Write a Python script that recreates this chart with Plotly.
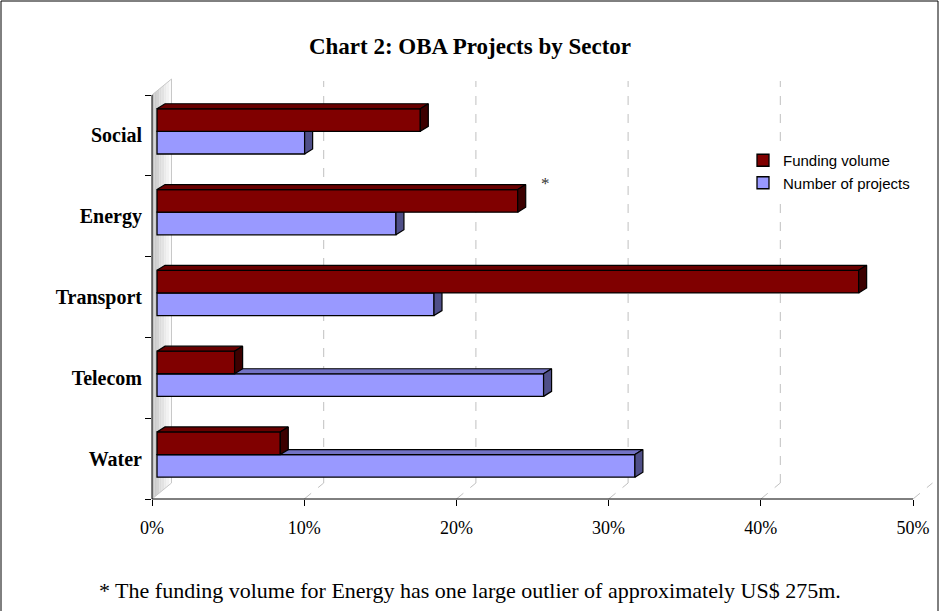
import plotly.graph_objects as go

# ---------------- data ----------------
categories = ["Water", "Telecom", "Transport", "Energy", "Social"]
funding_volume = [8.1, 5.1, 46.1, 23.7, 17.3]        # % of total funding
number_of_projects = [31.4, 25.4, 18.2, 15.7, 9.7]   # % of projects
x_tick_values = [0, 10, 20, 30, 40, 50]
x_tick_labels = ["0%", "10%", "20%", "30%", "40%", "50%"]
series_names = ["Funding volume", "Number of projects"]

# ---------------- geometry / style ----------------
W, H = 940, 611
L, R, T, B = 152, 936, 81, 499          # plot-area pixel box
PX_PER_PCT = 15.22                      # pixels per 1 %
PX_PER_CAT = 80.8
AXIS_TOP = 95
DEPTH_DX, DEPTH_DY = 19.5, 16           # back wall offset (pixels)
BAR_DX, BAR_DY = 8, 5                   # bar depth (pixels)
BAR_BASE = 5 / PX_PER_PCT               # bars sit slightly in front of the wall

y_lo = -0.5
y_hi = -0.5 + (B - T) / PX_PER_CAT
x_hi = (R - L) / PX_PER_PCT

dx = BAR_DX / PX_PER_PCT
dy = BAR_DY / PX_PER_CAT
bw = 0.28
num_off, fund_off = -0.23, 0.05

FUND_FRONT, FUND_TOP, FUND_SIDE = "#800000", "#680000", "#3c0000"
NUM_FRONT, NUM_TOP, NUM_SIDE = "#9999FF", "#7272c4", "#4f4f88"
SERIF = "Liberation Serif"
SANS = "Liberation Sans"


def px_x(p):
    return (p - L) / (R - L)


def px_y(p):
    return (B - p) / (B - T)


ypos = list(range(len(categories)))


def faces(values, off):
    tx, ty, sx, sy = [], [], [], []
    for i, v in zip(ypos, values):
        x0 = BAR_BASE
        x1 = BAR_BASE + v
        yb = i + off
        yt = yb + bw
        tx += [x0, x1, x1 + dx, x0 + dx, x0, None]
        ty += [yt, yt, yt + dy, yt + dy, yt, None]
        sx += [x1, x1 + dx, x1 + dx, x1, x1, None]
        sy += [yb, yb + dy, yt + dy, yt, yb, None]
    return tx, ty, sx, sy


fig = go.Figure()

# Number of projects (lower bar of each pair) on y
fig.add_trace(go.Bar(
    x=number_of_projects, y=ypos, orientation="h", base=BAR_BASE,
    width=bw, offset=num_off, name=series_names[1], legendrank=2,
    marker=dict(color=NUM_FRONT, line=dict(color="black", width=1.3)),
    xaxis="x", yaxis="y", hoverinfo="skip"))
tx, ty, sx, sy = faces(number_of_projects, num_off)
fig.add_trace(go.Scatter(x=tx, y=ty, fill="toself", mode="lines", fillcolor=NUM_TOP,
                         line=dict(color="black", width=1.2), showlegend=False,
                         xaxis="x", yaxis="y", hoverinfo="skip"))
fig.add_trace(go.Scatter(x=sx, y=sy, fill="toself", mode="lines", fillcolor=NUM_SIDE,
                         line=dict(color="black", width=1.2), showlegend=False,
                         xaxis="x", yaxis="y", hoverinfo="skip"))

# Funding volume (upper bar) on overlaid y2 so it is drawn in front
fig.add_trace(go.Bar(
    x=funding_volume, y=ypos, orientation="h", base=BAR_BASE,
    width=bw, offset=fund_off, name=series_names[0], legendrank=1,
    marker=dict(color=FUND_FRONT, line=dict(color="black", width=1.3)),
    xaxis="x", yaxis="y2", hoverinfo="skip"))
tx, ty, sx, sy = faces(funding_volume, fund_off)
fig.add_trace(go.Scatter(x=tx, y=ty, fill="toself", mode="lines", fillcolor=FUND_TOP,
                         line=dict(color="black", width=1.2), showlegend=False,
                         xaxis="x", yaxis="y2", hoverinfo="skip"))
fig.add_trace(go.Scatter(x=sx, y=sy, fill="toself", mode="lines", fillcolor=FUND_SIDE,
                         line=dict(color="black", width=1.2), showlegend=False,
                         xaxis="x", yaxis="y2", hoverinfo="skip"))

# ---------------- decorations (wall, grid, axis lines) ----------------
shapes = []
n_strips = 8
for k in range(n_strips):
    xa = L + DEPTH_DX * k / n_strips
    xb = L + DEPTH_DX * (k + 1) / n_strips
    ya_top = AXIS_TOP - DEPTH_DY * k / n_strips
    yb_top = AXIS_TOP - DEPTH_DY * (k + 1) / n_strips
    ya_bot = B - DEPTH_DY * k / n_strips
    yb_bot = B - DEPTH_DY * (k + 1) / n_strips
    g = int(192 + 62 * (k + 0.5) / n_strips)
    path = (f"M{px_x(xa)},{px_y(ya_bot)} L{px_x(xa)},{px_y(ya_top)} "
            f"L{px_x(xb)},{px_y(yb_top)} L{px_x(xb)},{px_y(yb_bot)} Z")
    shapes.append(dict(type="path", path=path, xref="paper", yref="paper",
                       fillcolor=f"rgb({g},{g},{g})", line=dict(width=0), layer="below"))
shapes.append(dict(type="line", xref="paper", yref="paper",
                   x0=px_x(L + DEPTH_DX), x1=px_x(L + DEPTH_DX),
                   y0=px_y(B - DEPTH_DY), y1=px_y(AXIS_TOP - DEPTH_DY),
                   line=dict(color="#c8c8c8", width=1), layer="below"))
shapes.append(dict(type="line", xref="paper", yref="paper",
                   x0=px_x(L), y0=px_y(B), x1=px_x(L + DEPTH_DX), y1=px_y(B - DEPTH_DY),
                   line=dict(color="#c8c8c8", width=1), layer="below"))
shapes.append(dict(type="line", xref="paper", yref="paper",
                   x0=px_x(L), y0=px_y(AXIS_TOP), x1=px_x(L + DEPTH_DX), y1=px_y(AXIS_TOP - DEPTH_DY),
                   line=dict(color="#c8c8c8", width=1), layer="below"))
for v in x_tick_values[1:]:
    fx = L + v * PX_PER_PCT
    shapes.append(dict(type="line", xref="paper", yref="paper",
                       x0=px_x(fx), y0=px_y(B), x1=px_x(fx + DEPTH_DX), y1=px_y(B - DEPTH_DY),
                       line=dict(color="#c0c0c0", width=1, dash="dash"), layer="below"))
    if v < x_tick_values[-1]:
        shapes.append(dict(type="line", xref="paper", yref="paper",
                           x0=px_x(fx + DEPTH_DX), y0=px_y(B - DEPTH_DY),
                           x1=px_x(fx + DEPTH_DX), y1=px_y(T),
                           line=dict(color="#c0c0c0", width=1, dash="dash"), layer="below"))
# axis lines
shapes.append(dict(type="line", xref="paper", yref="paper",
                   x0=0, y0=px_y(B), x1=0, y1=px_y(AXIS_TOP),
                   line=dict(color="black", width=1)))
shapes.append(dict(type="line", xref="paper", yref="paper",
                   x0=0, y0=0, x1=px_x(L + x_tick_values[-1] * PX_PER_PCT), y1=0,
                   line=dict(color="black", width=1)))
# outer chart border
shapes.append(dict(type="rect", xref="paper", yref="paper",
                   x0=px_x(1), y0=px_y(1), x1=px_x(938), y1=px_y(640),
                   line=dict(color="black", width=1), fillcolor="rgba(0,0,0,0)"))

annotations = [
    dict(text="*", xref="paper", yref="paper", x=px_x(545), y=px_y(172),
         showarrow=False, font=dict(family=SERIF, size=17, color="#333333")),
    dict(text="* The funding volume for Energy has one large outlier of approximately US$ 275m.",
         xref="paper", yref="paper", x=px_x(470), y=px_y(590), xanchor="center", yanchor="middle",
         showarrow=False, font=dict(family=SERIF, size=22, color="black")),
]

fig.update_layout(
    width=W, height=H,
    margin=dict(l=L, r=W - R, t=T, b=H - B, pad=0),
    paper_bgcolor="white", plot_bgcolor="rgba(0,0,0,0)",
    barmode="overlay",
    title=dict(text="<b>Chart 2: OBA Projects by Sector</b>", x=0.5, xanchor="center",
               y=1 - 46 / H, yanchor="middle",
               font=dict(family=SERIF, size=23, color="black")),
    xaxis=dict(range=[0, x_hi], tickmode="array", tickvals=x_tick_values, ticktext=x_tick_labels,
               ticks="outside", ticklen=6, tickcolor="black", showgrid=False,
               zeroline=False, showline=False, ticklabelstandoff=6, fixedrange=True,
               tickfont=dict(family=SERIF, size=18, color="black")),
    yaxis=dict(range=[y_lo, y_hi], tickmode="array", tickvals=ypos, ticktext=categories,
               ticks="", showgrid=False, zeroline=False, showline=False,
               ticklabelstandoff=9, fixedrange=True,
               tickfont=dict(family=SERIF, size=20, color="black", weight="bold"),
               minor=dict(tick0=-0.5, dtick=1, ticks="outside", ticklen=6,
                          tickcolor="black", showgrid=False)),
    yaxis2=dict(range=[y_lo, y_hi], overlaying="y", visible=False, fixedrange=True),
    legend=dict(x=px_x(743), y=px_y(144), xanchor="left", yanchor="top",
                bgcolor="white", borderwidth=0,
                font=dict(family=SANS, size=15, color="black"),
                traceorder="normal"),
    shapes=shapes,
    annotations=annotations,
)

fig.write_html("out.html", config={"displayModeBar": False},
               post_script="document.body.style.margin='0px';")
